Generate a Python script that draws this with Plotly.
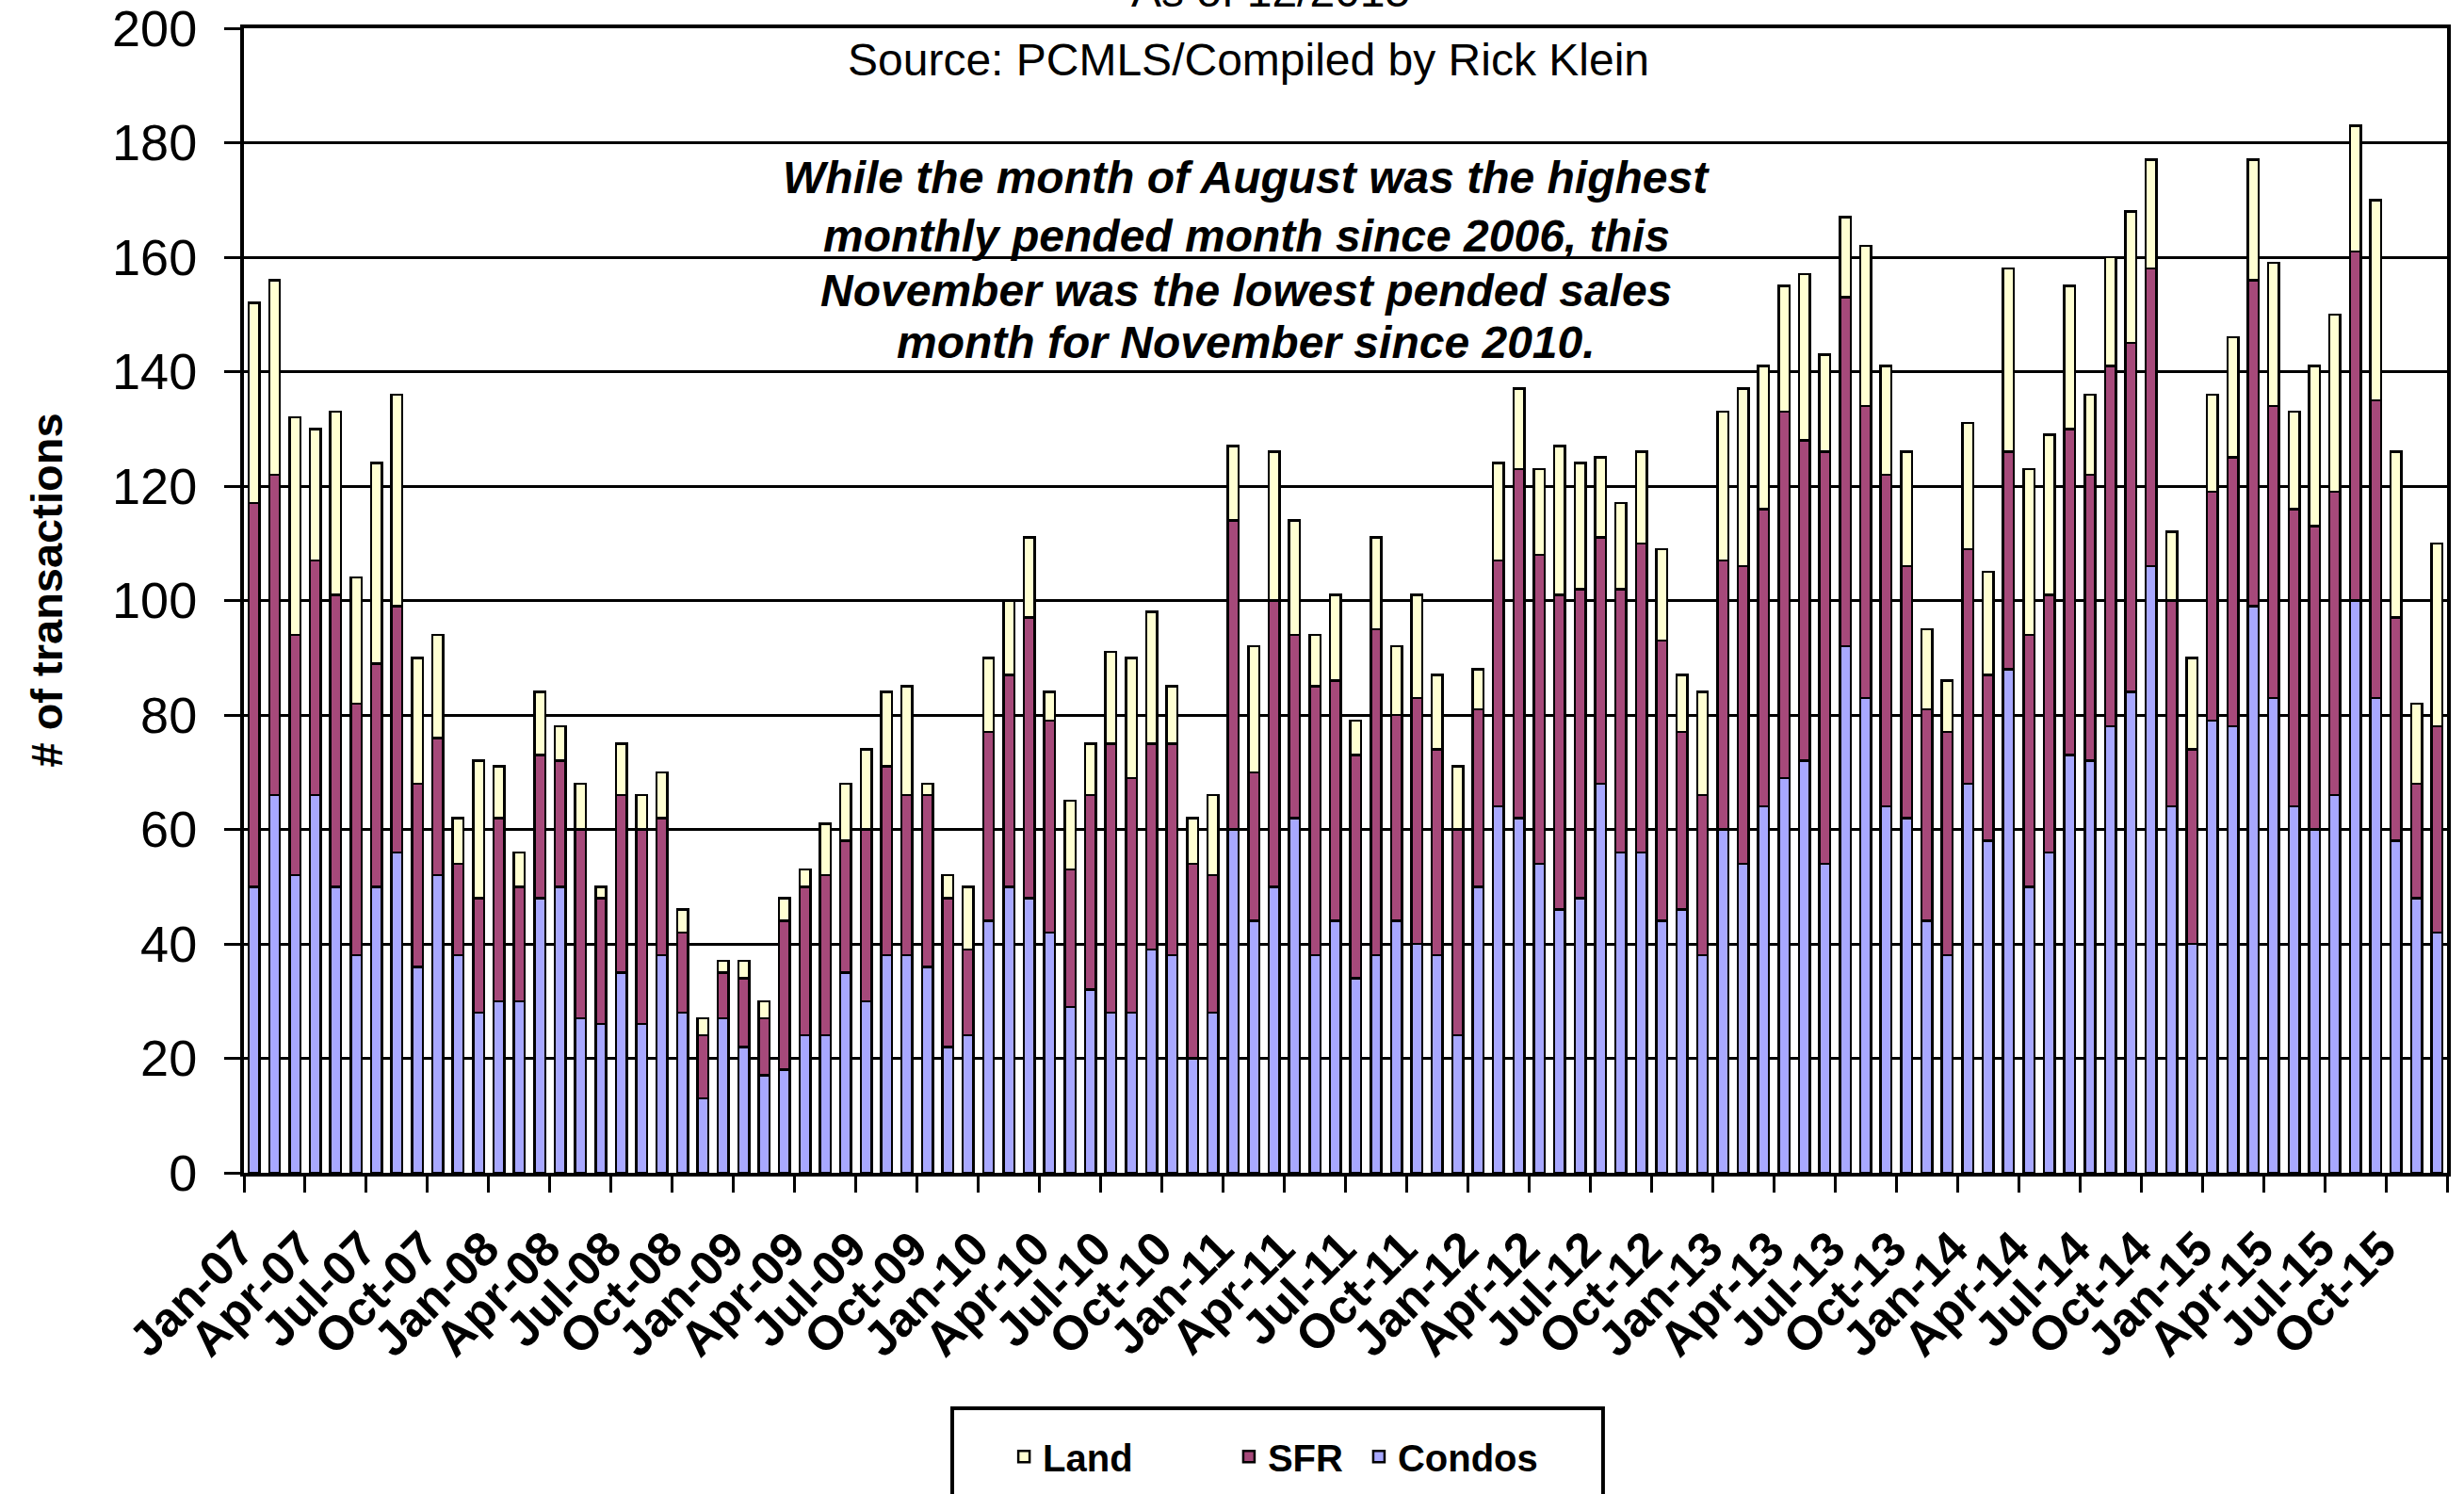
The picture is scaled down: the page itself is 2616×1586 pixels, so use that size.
import plotly.graph_objects as go

# Monthly pended transactions, Jan-07 .. Dec-15
MONTH_NAMES = ["Jan", "Feb", "Mar", "Apr", "May", "Jun",
               "Jul", "Aug", "Sep", "Oct", "Nov", "Dec"]
YEARS = ["07", "08", "09", "10", "11", "12", "13", "14", "15"]
months = [f"{m}-{y}" for y in YEARS for m in MONTH_NAMES]

condos = [
    50, 66, 52, 66, 50, 38, 50, 56, 36, 52, 38, 28,   # 2007
    30, 30, 48, 50, 27, 26, 35, 26, 38, 28, 13, 27,   # 2008
    22, 17, 18, 24, 24, 35, 30, 38, 38, 36, 22, 24,   # 2009
    44, 50, 48, 42, 29, 32, 28, 28, 39, 38, 20, 28,   # 2010
    60, 44, 50, 62, 38, 44, 34, 38, 44, 40, 38, 24,   # 2011
    50, 64, 62, 54, 46, 48, 68, 56, 56, 44, 46, 38,   # 2012
    60, 54, 64, 69, 72, 54, 92, 83, 64, 62, 44, 38,   # 2013
    68, 58, 88, 50, 56, 73, 72, 78, 84, 106, 64, 40,  # 2014
    79, 78, 99, 83, 64, 60, 66, 100, 83, 58, 48, 42,  # 2015
]
sfr = [
    67, 56, 42, 41, 51, 44, 39, 43, 32, 24, 16, 20,
    32, 20, 25, 22, 33, 22, 31, 34, 24, 14, 11, 8,
    12, 10, 26, 26, 28, 23, 30, 33, 28, 30, 26, 15,
    33, 37, 49, 37, 24, 34, 47, 41, 36, 37, 34, 24,
    54, 26, 50, 32, 47, 42, 39, 57, 36, 43, 36, 36,
    31, 43, 61, 54, 55, 54, 43, 46, 54, 49, 31, 28,
    47, 52, 52, 64, 56, 72, 61, 51, 58, 44, 37, 39,
    41, 29, 38, 44, 45, 57, 50, 63, 61, 52, 36, 34,
    40, 47, 57, 51, 52, 53, 53, 61, 52, 39, 20, 36,
]
land = [
    35, 34, 38, 23, 32, 22, 35, 37, 22, 18, 8, 24,
    9, 6, 11, 6, 8, 2, 9, 6, 8, 4, 3, 2,
    3, 3, 4, 3, 9, 10, 14, 13, 19, 2, 4, 11,
    13, 13, 14, 5, 12, 9, 16, 21, 23, 10, 8, 14,
    13, 22, 26, 20, 9, 15, 6, 16, 12, 18, 13, 11,
    7, 17, 14, 15, 26, 22, 14, 15, 16, 16, 10, 18,
    26, 31, 25, 22, 29, 17, 14, 28, 19, 20, 14, 9,
    22, 18, 32, 29, 28, 25, 14, 19, 23, 19, 12, 16,
    17, 21, 21, 25, 17, 28, 31, 22, 35, 29, 14, 32,
]

note_lines = [
    "While the month of August was the highest",
    "monthly pended month since 2006, this",
    "November was the lowest pended sales",
    "month for November since 2010.",
]

FONT = "Liberation Sans, Arial, sans-serif"
OUTLINE = dict(color="black", width=2.5)

fig = go.Figure()
fig.add_bar(x=months, y=condos, name="Condos", legend="legend3",
            marker=dict(color="#A8A8FF", line=OUTLINE))
fig.add_bar(x=months, y=sfr, name="SFR", legend="legend2",
            marker=dict(color="#A6497A", line=OUTLINE))
fig.add_bar(x=months, y=land, name="Land", legend="legend",
            marker=dict(color="#FFFFD2", line=OUTLINE))

legend_style = dict(
    orientation="h", xanchor="left", y=-0.2212, yanchor="top",
    borderwidth=0, bgcolor="rgba(0,0,0,0)", itemwidth=30,
    font=dict(size=40, family=FONT, weight="bold", color="black"),
)

fig.update_layout(
    width=2616, height=1586,
    margin=dict(l=259, r=18, t=30, b=341, autoexpand=False),
    paper_bgcolor="white", plot_bgcolor="white",
    barmode="stack", bargap=0.47,
    font=dict(family=FONT, color="black"),
    showlegend=True,
    legend=dict(x=0.3455, **legend_style),
    legend2=dict(x=0.4476, **legend_style),
    legend3=dict(x=0.5066, **legend_style),
)

# frame around the legend entries (runs past the bottom edge of the page)
fig.add_shape(type="rect", xref="paper", yref="paper",
              x0=0.3215, x1=0.6169, y0=-0.32, y1=-0.2058,
              line=dict(color="black", width=4), fillcolor="rgba(0,0,0,0)")

fig.update_xaxes(
    type="category", tickmode="linear", tick0=0, dtick=3,
    tickson="boundaries", ticks="outside", ticklen=17, tickwidth=3,
    tickcolor="black", tickangle=-45, ticklabelstandoff=26,
    ticklabelshift=-15, automargin=False,
    tickfont=dict(size=51, family=FONT, weight="bold"),
    showgrid=False, showline=True, linewidth=4, linecolor="black",
    mirror=True,
)
fig.update_yaxes(
    range=[0, 200], tickmode="linear", tick0=0, dtick=20,
    showgrid=True, gridcolor="black", gridwidth=2.5, zeroline=False,
    showline=True, linewidth=4, linecolor="black", mirror=True,
    ticks="outside", ticklen=17, tickwidth=3, tickcolor="black",
    ticklabelstandoff=18, automargin=False, ticklabeloverflow="allow",
    tickfont=dict(size=54, family=FONT),
)

annotations = [
    dict(text="As of 12/2015", x=0.466, y=1.009, xanchor="center",
         yanchor="bottom", font=dict(size=48)),
    dict(text="Source: PCMLS/Compiled by Rick Klein", x=0.456, y=0.9728,
         xanchor="center", yanchor="middle", font=dict(size=48)),
    dict(text="<b># of transactions</b>", x=(50 - 259) / 2339, y=0.509,
         xanchor="center", yanchor="middle", textangle=-90,
         font=dict(size=47)),
]
for line, ypos in zip(note_lines, [0.8695, 0.8189, 0.7707, 0.7254]):
    annotations.append(dict(text=f"<b><i>{line}</i></b>", x=0.455, y=ypos,
                            xanchor="center", yanchor="middle",
                            font=dict(size=48)))
for a in annotations:
    a.update(xref="paper", yref="paper", showarrow=False)
    a["font"]["family"] = FONT
    a["font"]["color"] = "black"
fig.update_layout(annotations=annotations)

fig.write_html("out.html")
